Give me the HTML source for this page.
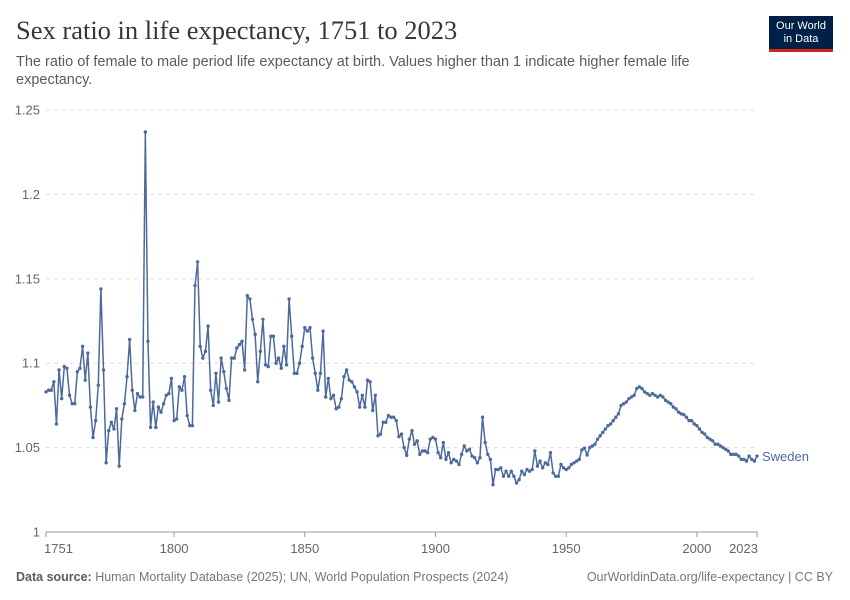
<!DOCTYPE html>
<html><head><meta charset="utf-8"><style>
body{margin:0;background:#fff;font-family:"Liberation Sans",sans-serif;}
#wrap{position:relative;width:850px;height:600px;overflow:hidden}
.t{position:absolute;white-space:nowrap}
</style></head><body><div id="wrap">
<div class="t" style="left:16px;top:15px;font-family:'Liberation Serif',serif;font-size:26.5px;color:#373737">Sex ratio in life expectancy, 1751 to 2023</div>
<div class="t" style="left:16px;top:53px;font-size:14.5px;line-height:18px;color:#5b5b5b;white-space:normal;width:720px">The ratio of female to male period life expectancy at birth. Values higher than 1 indicate higher female life expectancy.</div>
<div style="position:absolute;left:769px;top:16px;width:64px;height:36px;background:#002147;border-bottom:3px solid #ce261e;color:#fff;font-size:11px;line-height:13px;text-align:center;padding-top:4px;box-sizing:border-box">Our World<br>in Data</div>
<svg id="chart" width="850" height="600" style="position:absolute;left:0;top:0"></svg>
<div class="t" style="left:16px;top:570px;font-size:12.5px;color:#777"><b style="color:#5b5b5b;font-weight:bold">Data source:</b> Human Mortality Database (2025); UN, World Population Prospects (2024)</div>
<div class="t" style="right:17px;top:570px;font-size:12.5px;color:#777">OurWorldinData.org/life-expectancy | CC BY</div>
</div>
<script>
const startYear = 1751;
const values = [
1.083,1.084,1.084,1.089,1.064,1.096,1.079,1.098,1.097,1.081,
1.076,1.076,1.095,1.097,1.110,1.090,1.106,1.074,1.056,1.066,
1.087,1.144,1.096,1.041,1.060,1.065,1.061,1.073,1.039,1.067,
1.076,1.092,1.114,1.084,1.072,1.082,1.080,1.080,1.237,1.113,
1.062,1.077,1.062,1.074,1.071,1.076,1.081,1.082,1.091,1.066,
1.067,1.086,1.084,1.092,1.069,1.063,1.063,1.146,1.160,1.110,
1.103,1.107,1.122,1.084,1.075,1.094,1.077,1.103,1.095,1.085,
1.078,1.103,1.103,1.109,1.111,1.113,1.096,1.140,1.138,1.126,
1.117,1.089,1.107,1.126,1.099,1.098,1.116,1.116,1.100,1.103,
1.097,1.110,1.099,1.138,1.116,1.094,1.094,1.100,1.110,1.121,
1.119,1.121,1.103,1.094,1.084,1.094,1.119,1.080,1.091,1.079,
1.081,1.073,1.074,1.079,1.092,1.096,1.090,1.089,1.086,1.083,
1.074,1.081,1.074,1.090,1.089,1.072,1.081,1.057,1.058,1.065,
1.065,1.069,1.068,1.068,1.066,1.0565,1.058,1.050,1.0454,1.055,
1.060,1.052,1.054,1.046,1.048,1.048,1.047,1.055,1.056,1.055,
1.047,1.044,1.053,1.043,1.047,1.041,1.043,1.042,1.040,1.046,
1.051,1.048,1.049,1.045,1.044,1.041,1.044,1.068,1.053,1.046,
1.043,1.028,1.037,1.037,1.038,1.033,1.036,1.033,1.036,1.033,
1.029,1.031,1.036,1.034,1.037,1.036,1.037,1.048,1.039,1.042,
1.038,1.041,1.040,1.047,1.035,1.033,1.033,1.040,1.038,1.037,
1.038,1.040,1.041,1.042,1.043,1.0486,1.0497,1.0456,1.050,1.051,
1.052,1.055,1.057,1.059,1.061,1.063,1.064,1.066,1.068,1.070,
1.075,1.076,1.077,1.079,1.080,1.081,1.085,1.086,1.085,1.083,
1.082,1.081,1.082,1.081,1.080,1.081,1.080,1.078,1.077,1.076,
1.074,1.073,1.071,1.070,1.0695,1.068,1.066,1.066,1.064,1.063,
1.061,1.059,1.058,1.056,1.055,1.054,1.052,1.052,1.051,1.050,
1.049,1.048,1.046,1.046,1.046,1.045,1.043,1.043,1.042,1.045,
1.043,1.042,1.045];
const yTicks = [1, 1.05, 1.1, 1.15, 1.2, 1.25];
const yTickLabels = ["1","1.05","1.1","1.15","1.2","1.25"];
const xTicks = [1751, 1800, 1850, 1900, 1950, 2000, 2023];
const seriesName = "Sweden";

const NS = "http://www.w3.org/2000/svg";
const svg = document.getElementById('chart');
const x0 = 46, x1 = 757, y0 = 532, y1 = 110;
const endYear = startYear + values.length - 1;
function xs(yr){ return x0 + (yr - startYear) / (endYear - startYear) * (x1 - x0); }
function ys(v){ return y0 - (v - 1) / 0.25 * (y0 - y1); }
function mk(tag, attrs){ const e = document.createElementNS(NS, tag); for (const k in attrs) e.setAttribute(k, attrs[k]); svg.appendChild(e); return e; }

yTicks.forEach((t, i) => {
  const y = ys(t);
  const g = mk('line', {x1: 46, x2: 757, y1: y, y2: y, stroke: i === 0 ? '#999' : '#ddd', 'stroke-dasharray': i === 0 ? '' : '4,4', 'stroke-width': 1});
  
  
  const tx = mk('text', {x: 40, y: y + 4.5, 'text-anchor': 'end', 'font-size': 13, fill: '#666', 'font-family': 'Liberation Sans, sans-serif'});
  tx.textContent = yTickLabels[i];
  
  
});
xTicks.forEach((t, i) => {
  const x = xs(t);
  const tk = mk('line', {x1: x, x2: x, y1: 532, y2: 537, stroke: '#999'});
  
  
  let lx = x, anchor = 'middle';
  if (i === 0) { lx = x0 - 2; anchor = 'start'; }
  if (i === xTicks.length - 1) { lx = x + 1; anchor = 'end'; }
  const tx = mk('text', {x: lx, y: 553, 'text-anchor': anchor, 'font-size': 13, fill: '#666', 'font-family': 'Liberation Sans, sans-serif'});
  tx.textContent = String(t);
  
  
});
const pts = values.map((v, i) => xs(startYear + i).toFixed(2) + ',' + ys(v).toFixed(2)).join(' ');
const line = mk('polyline', {points: pts, fill: 'none', stroke: '#4c6a9c', 'stroke-width': 1.5, 'stroke-linejoin': 'round'});


values.forEach((v, i) => {
  const c = mk('circle', {cx: xs(startYear + i), cy: ys(v), r: 1.7, fill: '#4c6a9c'});
  
  
});
const lab = mk('text', {x: 762, y: ys(values[values.length - 1]) + 5, 'font-size': 13, fill: '#4c6a9c', 'font-family': 'Liberation Sans, sans-serif'});
lab.textContent = seriesName;


</script>
</body></html>
